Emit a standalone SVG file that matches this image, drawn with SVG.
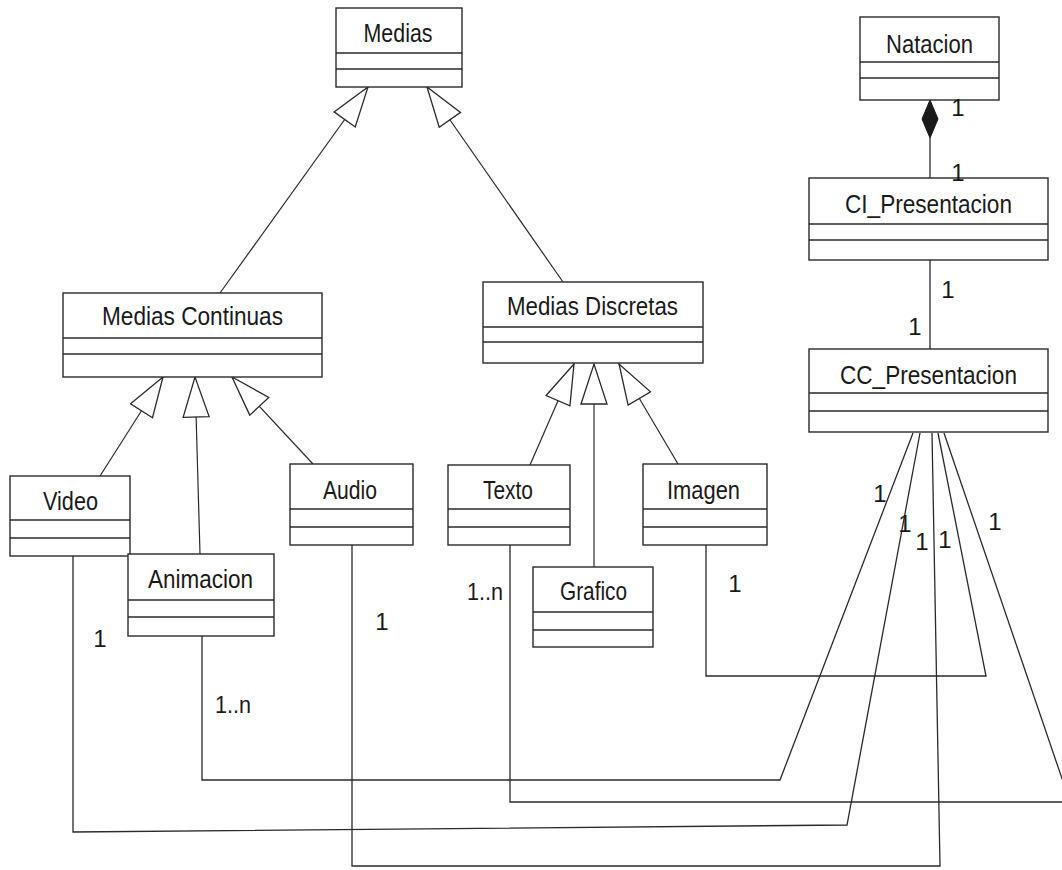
<svg xmlns="http://www.w3.org/2000/svg" width="1062" height="870" viewBox="0 0 1062 870">
  <style>
    .box { fill: #ffffff; stroke: #2a2a2a; stroke-width: 1.4; }
    .sep { stroke: #2a2a2a; stroke-width: 1.4; }
    .name { font-family: "Liberation Sans", Arial, sans-serif; font-size: 26px; fill: #1a1a1a; text-anchor: middle; }
    .mult { font-family: "Liberation Sans", Arial, sans-serif; font-size: 24px; fill: #1a1a1a; text-anchor: middle; }
    .gen { fill: none; stroke: #2a2a2a; stroke-width: 1.2; marker-end: url(#hollow); }
    .assoc { fill: none; stroke: #2a2a2a; stroke-width: 1.3; }
  </style>
  <defs>
    <marker id="hollow" markerUnits="userSpaceOnUse" markerWidth="44" markerHeight="30" refX="41" refY="14" orient="auto">
      <path d="M1,1 L41,14 L1,27 Z" fill="#ffffff" stroke="#2a2a2a" stroke-width="1.3"/>
    </marker>
  </defs>
  <rect x="0" y="0" width="1062" height="870" fill="#ffffff"/>

  <!-- connectors -->
  <g id="connectors">
    <!-- generalizations -->
    <path class="gen" d="M220,293 L368,87"/>
    <path class="gen" d="M563,282 L427,87"/>
    <path class="gen" d="M100,476 L163,377"/>
    <path class="gen" d="M200,554 L195,377"/>
    <path class="gen" d="M313,464 L232,377"/>
    <path class="gen" d="M530,465 L574,364"/>
    <path class="gen" d="M594,567 L594,364"/>
    <path class="gen" d="M678,464 L619,364"/>
    <!-- composition Natacion / CI_Presentacion -->
    <path class="assoc" d="M930,138 L930,178"/>
    <path d="M930,100 L938,119 L930,138 L922,119 Z" fill="#1a1a1a" stroke="#1a1a1a" stroke-width="1"/>
    <!-- CI_Presentacion / CC_Presentacion -->
    <path class="assoc" d="M930,260 L930,349"/>
    <!-- CC_Presentacion associations -->
    <path class="assoc" d="M202,636 L202,780 L780,780 L913,433"/>
    <path class="assoc" d="M73,556 L73,832 L847,825 L920,433"/>
    <path class="assoc" d="M352,545 L352,866 L940,866 L932,433"/>
    <path class="assoc" d="M706,545 L706,676 L986,676 L938,433"/>
    <path class="assoc" d="M510,545 L510,802 L1070,802 L944,433"/>
  </g>

  <g id="medias">
    <rect class="box" x="336" y="8" width="126" height="79"/>
    <line class="sep" x1="336" y1="53" x2="462" y2="53"/>
    <line class="sep" x1="336" y1="69" x2="462" y2="69"/>
    <text class="name" x="398" y="42" textLength="69" lengthAdjust="spacingAndGlyphs">Medias</text>
  </g>

  <g id="natacion">
    <rect class="box" x="860" y="17" width="139" height="83"/>
    <line class="sep" x1="860" y1="62" x2="999" y2="62"/>
    <line class="sep" x1="860" y1="78" x2="999" y2="78"/>
    <text class="name" x="929.5" y="53" textLength="87" lengthAdjust="spacingAndGlyphs">Natacion</text>
  </g>

  <g id="ci-presentacion">
    <rect class="box" x="809" y="178" width="239" height="82"/>
    <line class="sep" x1="809" y1="224" x2="1048" y2="224"/>
    <line class="sep" x1="809" y1="240" x2="1048" y2="240"/>
    <text class="name" x="928.5" y="213" textLength="167" lengthAdjust="spacingAndGlyphs">CI_Presentacion</text>
  </g>

  <g id="cc-presentacion">
    <rect class="box" x="809" y="349" width="239" height="83"/>
    <line class="sep" x1="809" y1="393" x2="1048" y2="393"/>
    <line class="sep" x1="809" y1="411" x2="1048" y2="411"/>
    <text class="name" x="928.5" y="384" textLength="177" lengthAdjust="spacingAndGlyphs">CC_Presentacion</text>
  </g>

  <g id="medias-continuas">
    <rect class="box" x="63" y="293" width="259" height="84"/>
    <line class="sep" x1="63" y1="338" x2="322" y2="338"/>
    <line class="sep" x1="63" y1="354" x2="322" y2="354"/>
    <text class="name" x="192.5" y="325" textLength="181" lengthAdjust="spacingAndGlyphs">Medias Continuas</text>
  </g>

  <g id="medias-discretas">
    <rect class="box" x="483" y="282" width="220" height="81"/>
    <line class="sep" x1="483" y1="327" x2="703" y2="327"/>
    <line class="sep" x1="483" y1="342" x2="703" y2="342"/>
    <text class="name" x="592.5" y="315" textLength="171" lengthAdjust="spacingAndGlyphs">Medias Discretas</text>
  </g>

  <g id="video">
    <rect class="box" x="10" y="476" width="120" height="80"/>
    <line class="sep" x1="10" y1="520" x2="130" y2="520"/>
    <line class="sep" x1="10" y1="538" x2="130" y2="538"/>
    <text class="name" x="70.5" y="510" textLength="55" lengthAdjust="spacingAndGlyphs">Video</text>
  </g>

  <g id="animacion">
    <rect class="box" x="128" y="554" width="146" height="82"/>
    <line class="sep" x1="128" y1="600" x2="274" y2="600"/>
    <line class="sep" x1="128" y1="617" x2="274" y2="617"/>
    <text class="name" x="200.5" y="588" textLength="105" lengthAdjust="spacingAndGlyphs">Animacion</text>
  </g>

  <g id="audio">
    <rect class="box" x="290" y="464" width="123" height="81"/>
    <line class="sep" x1="290" y1="509" x2="413" y2="509"/>
    <line class="sep" x1="290" y1="527" x2="413" y2="527"/>
    <text class="name" x="350" y="499" textLength="54" lengthAdjust="spacingAndGlyphs">Audio</text>
  </g>

  <g id="texto">
    <rect class="box" x="448" y="465" width="122" height="80"/>
    <line class="sep" x1="448" y1="509" x2="570" y2="509"/>
    <line class="sep" x1="448" y1="527" x2="570" y2="527"/>
    <text class="name" x="508" y="499" textLength="50" lengthAdjust="spacingAndGlyphs">Texto</text>
  </g>

  <g id="grafico">
    <rect class="box" x="533" y="567" width="120" height="80"/>
    <line class="sep" x1="533" y1="612" x2="653" y2="612"/>
    <line class="sep" x1="533" y1="630" x2="653" y2="630"/>
    <text class="name" x="593.5" y="600" textLength="67" lengthAdjust="spacingAndGlyphs">Grafico</text>
  </g>

  <g id="imagen">
    <rect class="box" x="643" y="464" width="124" height="81"/>
    <line class="sep" x1="643" y1="509" x2="767" y2="509"/>
    <line class="sep" x1="643" y1="527" x2="767" y2="527"/>
    <text class="name" x="703.5" y="499" textLength="73" lengthAdjust="spacingAndGlyphs">Imagen</text>
  </g>

  <g id="multiplicities">
    <text class="mult" x="958" y="116">1</text>
    <text class="mult" x="958" y="181">1</text>
    <text class="mult" x="948" y="298">1</text>
    <text class="mult" x="915" y="335">1</text>
    <text class="mult" x="880" y="502">1</text>
    <text class="mult" x="905" y="532">1</text>
    <text class="mult" x="922" y="550">1</text>
    <text class="mult" x="945" y="548">1</text>
    <text class="mult" x="995" y="530">1</text>
    <text class="mult" x="100" y="647">1</text>
    <text class="mult" x="233" y="713" textLength="36" lengthAdjust="spacingAndGlyphs">1..n</text>
    <text class="mult" x="382" y="630">1</text>
    <text class="mult" x="485" y="600" textLength="36" lengthAdjust="spacingAndGlyphs">1..n</text>
    <text class="mult" x="735" y="592">1</text>
  </g>
</svg>
